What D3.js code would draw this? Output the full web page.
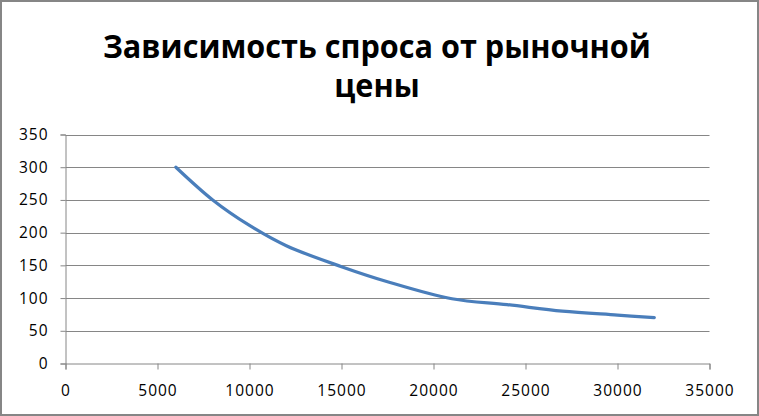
<!DOCTYPE html>
<html><head><meta charset="utf-8">
<script src="https://cdn.jsdelivr.net/npm/d3@7"></script>
<style>body{margin:0;background:#fff}svg{display:block}</style>
</head><body>
<script>
const titleLines = ["Зависимость спроса от рыночной", "цены"];
const prices = [6000, 8000, 10000, 12000, 15000, 17500, 21000, 24000, 27000, 30000, 32000];
const demand = [300, 250, 211, 180, 148, 125, 99, 90, 80, 74, 70];
const xTicks = [0, 5000, 10000, 15000, 20000, 25000, 30000, 35000];
const yTicks = [0, 50, 100, 150, 200, 250, 300, 350];

const W = 759, H = 416;
const svg = d3.select("body").append("svg").attr("width", W).attr("height", H);
svg.append("rect").attr("x", 1).attr("y", 1).attr("width", W - 2).attr("height", H - 2)
  .attr("fill", "#fff").attr("stroke", "#868686").attr("stroke-width", 2);

const x = d3.scaleLinear().domain([0, 35000]).range([65.5, 709.5]);
const y = d3.scaleLinear().domain([0, 350]).range([363.5, 134.5]);

// gridlines
svg.append("g").selectAll("line").data(yTicks.filter(d => d > 0)).join("line")
  .attr("x1", x(0)).attr("x2", x(35000)).attr("y1", d => Math.round(y(d)) + 0.5).attr("y2", d => Math.round(y(d)) + 0.5)
  .attr("stroke", "#868686").attr("stroke-width", 1);

const fontAxis = "'Open Sans', sans-serif";
const yAxis = svg.append("g").attr("transform", `translate(${x(0)},0)`)
  .call(d3.axisLeft(y).tickValues(yTicks).tickSize(5).tickPadding(12).tickFormat(d3.format("d")));
const xAxis = svg.append("g").attr("transform", `translate(0,${y(0)})`)
  .call(d3.axisBottom(x).tickValues(xTicks).tickSize(6).tickPadding(15).tickFormat(d3.format("d")));
[yAxis, xAxis].forEach(g => {
  g.select(".domain").attr("stroke", "#868686");
  g.selectAll(".tick line").attr("stroke", "#868686");
  g.selectAll("text").attr("fill", "#000").style("font-family", fontAxis).style("font-size", "15.5px")
    .style("letter-spacing", "1px");
});

const line = d3.line().x((d, i) => x(prices[i])).y(d => y(d)).curve(d3.curveCatmullRom.alpha(0.5));
svg.append("path").datum(demand).attr("d", line).attr("fill", "none")
  .attr("stroke", "#4a7ebb").attr("stroke-width", 3.2).attr("stroke-linecap", "round");

// title
const tg = svg.append("g");
const t1 = tg.append("text").attr("x", 0).attr("y", 0).text(titleLines[0])
  .style("font-family", "'Open Sans', sans-serif").style("font-weight", "bold").style("font-size", "32px").attr("fill", "#000");
const w1 = t1.node().getComputedTextLength();
const sx = 548 / w1;
t1.attr("transform", `translate(${377 - 548 / 2},58) scale(${sx},1)`);
const t2 = tg.append("text").text(titleLines[1])
  .style("font-family", "'Open Sans', sans-serif").style("font-weight", "bold").style("font-size", "32px").attr("fill", "#000")
  .attr("text-anchor", "middle").attr("transform", `translate(377,97) scale(${sx},1)`);
</script>
</body></html>
